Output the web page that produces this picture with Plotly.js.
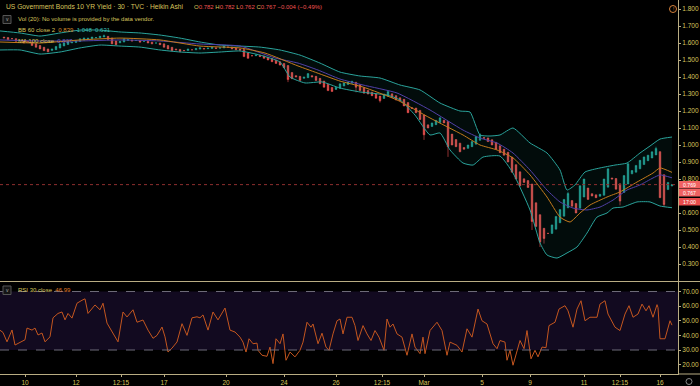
<!DOCTYPE html>
<html><head><meta charset="utf-8">
<script src="https://cdn.plot.ly/plotly-3.0.1.min.js"></script>
<style>html,body{margin:0;padding:0;background:#000;}#chart{width:700px;height:386px;}</style>
</head><body><div id="chart"></div>
<script>
// ---- Heikin Ashi closes (30-min bars), one per time slot ----
const closes = [
1.630,1.620,1.625,1.610,1.615,1.600,1.605,1.585,1.575,1.565,
1.555,1.548,1.565,1.580,1.595,1.600,1.610,1.605,1.615,1.625,
1.630,1.628,1.635,1.632,1.640,1.643,1.620,1.595,1.590,1.610,
1.625,1.620,1.612,1.615,1.605,1.610,1.600,1.595,1.600,1.590,
1.575,1.565,1.555,1.560,1.550,1.555,1.565,1.560,1.568,1.572,
1.565,1.570,1.575,1.568,1.572,1.582,1.575,1.565,1.560,1.558,
1.520,1.510,1.525,1.530,1.520,1.510,1.500,1.490,1.480,1.470,
1.455,1.385,1.390,1.400,1.380,1.400,1.420,1.400,1.380,1.360,
1.340,1.320,1.315,1.340,1.360,1.365,1.370,1.375,1.340,1.320,
1.305,1.300,1.290,1.275,1.260,1.300,1.315,1.280,1.265,1.260,
1.230,1.190,1.215,1.190,1.150,1.060,1.100,1.130,1.145,1.160,
1.130,0.990,1.000,0.990,0.960,0.975,1.000,1.020,1.050,1.060,
1.040,1.020,1.000,0.975,0.955,0.940,0.900,0.840,0.800,0.760,
0.780,0.750,0.550,0.520,0.430,0.450,0.480,0.530,0.580,0.620,
0.680,0.715,0.640,0.600,0.760,0.800,0.680,0.700,0.690,0.710,
0.800,0.860,0.800,0.740,0.670,0.820,0.890,0.850,0.880,0.910,
0.930,0.940,0.960,0.980,0.690,0.650,0.780,0.767];
const firstOpen = 1.635;
// notable wicks
const lowWickT = [288, 356, 380, 424, 448, 532, 540, 544, 620, 664];
const lowWickV = [1.37, 1.31, 1.25, 1.03, 0.93, 0.50, 0.40, 0.42, 0.645, 0.635];
const highWickT = [104, 476, 480, 568, 656];
const highWickV = [1.65, 1.055, 1.07, 0.725, 0.99];

// ---- Bollinger Bands (60, 2) and MA 100 ----
const upperT = [0,20,40,60,80,100,120,140,160,180,200,220,240,260,280,300,320,340,360,380,400,420,440,460,470,480,490,500,513,530,547,560,567,575,585,600,615,627,640,650,660,672];
const upperV = [1.671,1.659,1.641,1.659,1.676,1.676,1.665,1.659,1.647,1.629,1.606,1.588,1.582,1.576,1.559,1.529,1.482,1.429,1.406,1.394,1.353,1.324,1.247,1.200,1.194,1.059,1.053,1.059,1.100,1.012,0.953,0.853,0.735,0.765,0.841,0.865,0.882,0.894,0.953,0.994,1.035,1.047];
const lowerT = [0,20,40,60,80,100,120,140,160,180,200,220,240,260,280,290,305,322,340,360,387,400,415,430,440,450,463,473,483,500,513,530,540,547,557,567,577,587,597,607,613,623,637,650,660,672];
const lowerV = [1.559,1.559,1.535,1.547,1.571,1.588,1.582,1.576,1.559,1.547,1.541,1.547,1.553,1.529,1.488,1.400,1.365,1.371,1.335,1.312,1.294,1.265,1.176,1.059,1.071,0.971,0.894,0.882,0.929,0.935,0.835,0.618,0.424,0.353,0.335,0.365,0.400,0.482,0.576,0.600,0.629,0.635,0.665,0.665,0.641,0.631];
const basisT = [0,40,80,120,160,200,240,265,298,320,340,363,397,430,463,480,497,513,530,547,560,570,580,590,607,620,637,653,660,672];
const basisV = [1.606,1.600,1.618,1.629,1.618,1.582,1.571,1.541,1.465,1.418,1.376,1.341,1.265,1.159,1.059,1.000,0.971,0.924,0.824,0.694,0.576,0.547,0.600,0.647,0.694,0.724,0.782,0.835,0.865,0.839];
const maT = [0,40,80,120,160,200,240,275,298,318,340,363,397,430,463,480,497,513,530,547,560,573,587,600,613,627,640,653,660,672];
const maV = [1.618,1.612,1.612,1.618,1.612,1.594,1.582,1.512,1.482,1.441,1.388,1.353,1.306,1.206,1.088,1.041,1.012,0.953,0.853,0.735,0.665,0.629,0.618,0.635,0.676,0.735,0.765,0.806,0.824,0.807];

// ---- RSI 30 ----
const rsiT = [0,3,7,12,15,20,25,27,32,35,38,42,45,50,53,58,62,65,68,72,77,82,85,88,95,100,103,107,113,118,123,127,133,137,143,148,153,157,162,165,168,172,177,182,187,192,197,200,203,208,213,218,225,230,235,
240,243,246,249,253,257,258,262,267,270,273,276,280,283,286,290,295,300,303,307,311,313,318,322,326,329,333,337,340,343,347,352,355,358,363,367,371,375,379,384,387,390,393,397,402,407,412,415,420,423,425,430,437,442,447,450,457,462,467,472,478,482,487,493,497,500,505,507,510,513,517,520,524,527,531,535,538,542,546,549,555,559,565,568,573,577,581,585,590,597,600,605,608,615,620,625,629,633,638,642,646,649,653,657,658,660,665,670,672];
const rsiV = [43.5,42,35.6,43.7,33.4,35.5,37,45,43.6,45,40.3,41.6,35.6,39,52,55,56,50.6,55,51.8,62,64,65,55,60.8,57.5,62,48.4,41.6,35.6,56,52.6,57.5,49,50.5,43.6,38,40,45.7,39,28.6,31.3,35.5,48,40,52,52.7,52,54,43.6,56,50.6,58.7,43.6,42.3,
38.8,35.4,28.6,37.7,34.3,34.7,29.8,26.4,25.7,32,20.7,37.7,34.3,41,23,28.6,25.3,29.8,35.4,49,45.6,47.8,34.3,41.5,32,29.8,41,50,51.2,41,52.4,52.4,46.7,36.5,46.7,41,36.5,43.3,38.8,29.8,51.2,45.6,47.8,41,38.8,26.4,41,32,27.5,38.8,27.5,43.3,49,43.3,26.4,35.4,33.2,28.6,44.5,38.8,58,50,47.8,34.3,30.9,36.5,35.4,23,29.8,19.6,29.8,36.5,30.9,43.3,24,29.8,25.3,32,31.6,46.7,49,58,60.3,56.8,45.6,58,63.7,50,52.4,52.4,61.4,63.7,54.6,45.6,43.3,54.6,60.3,52.4,54.6,61.4,56.8,60.3,52.4,61,59,37.7,37.7,50,46.99];

// ---- axis ticks (0.700 is hidden behind the price labels in the reference) ----
const xTickVals = [25,76,121,164,226,284,336,382,424,482,530,584,620,660];
const xTickText = ['10','12','12:15','17','20','24','26','12:15','Mar','5','9','11','12:15','16'];
const priceTicks = [0.3,0.4,0.5,0.6,0.8,0.9,1.0,1.1,1.2,1.3,1.4,1.5,1.6,1.7,1.8];
const rsiTicks = [20,30,40,50,60,70];
const lastPrice = 0.767;

// build OHLC table (Heikin Ashi opens)
const candleT = closes.map((_, i) => 4 * (i + 1));
const opens = [];
closes.forEach((c, i) => { opens.push(i === 0 ? firstOpen : (opens[i-1] + closes[i-1]) / 2); });
const highs = closes.map((c, i) => Math.max(c, opens[i]));
const lows = closes.map((c, i) => Math.min(c, opens[i]));
lowWickT.forEach((t, k) => { const i = candleT.indexOf(t); if (i >= 0) lows[i] = Math.min(lows[i], lowWickV[k]); });
highWickT.forEach((t, k) => { const i = candleT.indexOf(t); if (i >= 0) highs[i] = Math.max(highs[i], highWickV[k]); });

const UP = '#26a69a', DN = '#ef5350';
const TXT = '#d8c45c', AX = '#b9ad83';
const FONT = 'Liberation Sans, Arial, sans-serif';

const traces = [
  {type:'candlestick', x:candleT, open:opens, high:highs, low:lows, close:closes, xaxis:'x', yaxis:'y',
   increasing:{line:{color:UP, width:0.6}, fillcolor:UP}, decreasing:{line:{color:DN, width:0.6}, fillcolor:DN},
   whiskerwidth:0, hoverinfo:'skip'},
  {type:'scatter', mode:'lines', x:lowerT, y:lowerV, xaxis:'x', yaxis:'y', line:{color:'#2aa39b', width:1, shape:'spline', smoothing:0.5}},
  {type:'scatter', mode:'lines', x:upperT, y:upperV, xaxis:'x', yaxis:'y', fill:'tonexty', fillcolor:'rgba(30,150,140,0.08)', line:{color:'#2aa39b', width:1, shape:'spline', smoothing:0.5}},
  {type:'scatter', mode:'lines', x:maT, y:maV, xaxis:'x', yaxis:'y', line:{color:'#5240a8', width:1, shape:'spline', smoothing:0.5}},
  {type:'scatter', mode:'lines', x:basisT, y:basisV, xaxis:'x', yaxis:'y', line:{color:'#c47a1c', width:1, shape:'spline', smoothing:0.5}},
  {type:'scatter', mode:'lines', x:rsiT, y:rsiV, xaxis:'x', yaxis:'y2', line:{color:'#c4561f', width:1}}
];

const py = p => (374 - p) / 374;   // pixel row -> paper y
const px = p => p / 678;           // pixel column -> paper x

const shapes = [
  {type:'rect', xref:'paper', yref:'y2', x0:0, x1:1, y0:30, y1:70, fillcolor:'#120a20', line:{width:0}, layer:'below'},
  {type:'line', xref:'paper', yref:'y2', x0:0, x1:1, y0:70, y1:70, line:{color:'#6d6a78', width:1, dash:'dash'}},
  {type:'line', xref:'paper', yref:'y2', x0:0, x1:1, y0:30, y1:30, line:{color:'#6d6a78', width:1, dash:'dash'}},
  {type:'line', xref:'paper', yref:'y', x0:0, x1:1, y0:lastPrice, y1:lastPrice, line:{color:'#8e2f2f', width:1, dash:'dot'}},
  {type:'line', xref:'paper', yref:'paper', x0:0, x1:px(700), y0:py(281.5), y1:py(281.5), line:{color:AX, width:1}},
  {type:'line', xref:'paper', yref:'paper', x0:1, x1:px(700), y0:0, y1:0, line:{color:AX, width:1}},
  {type:'rect', xref:'paper', yref:'paper', x0:px(679), x1:px(700), y0:py(188.5), y1:py(181), fillcolor:'#f06262', line:{width:0}},
  {type:'rect', xref:'paper', yref:'paper', x0:px(679), x1:px(700), y0:py(196.5), y1:py(189), fillcolor:'#f06262', line:{width:0}},
  {type:'rect', xref:'paper', yref:'paper', x0:px(679), x1:px(700), y0:py(205.5), y1:py(198), fillcolor:'#e84c4c', line:{width:0}},
  {type:'rect', xref:'paper', yref:'paper', x0:px(3), x1:px(11), y0:py(23.5), y1:py(15.5), fillcolor:'#151515', line:{color:'#555', width:1}},
  {type:'rect', xref:'paper', yref:'paper', x0:px(3), x1:px(11), y0:py(294.5), y1:py(286), fillcolor:'#151515', line:{color:'#555', width:1}},
  {type:'circle', xref:'paper', yref:'paper', x0:px(669.5), x1:px(676.5), y0:py(12.5), y1:py(5.5), line:{color:'#d5813a', width:1}},
  {type:'circle', xref:'paper', yref:'paper', x0:px(686), x1:px(692), y0:py(384.5), y1:py(378.5), line:{color:'#888', width:1}}
];

const sp = (c, t) => '<span style="color:' + c + '">' + t + '</span>';
const ann = (x, y, text, size, extra) => Object.assign({xref:'paper', yref:'paper', x:x, y:y, text:text, showarrow:false,
  xanchor:'left', yanchor:'middle', font:{family:FONT, size:size, color:TXT}}, extra || {});
const lbl = (y, t) => ann(px(689.5), py(y), t, 5.2, {xanchor:'center', borderpad:0, font:{family:FONT, size:5.2, color:'#fff'}});
const annotations = [
  ann(px(4), py(7), 'US Government Bonds 10 YR Yield · 30 · TVC · Heikin Ashi', 6.7),
  ann(px(192), py(7), 'O' + sp(DN,'0.782') + ' H' + sp(DN,'0.782') + ' L' + sp(DN,'0.762') + ' C' + sp(DN,'0.767') + ' ' + sp(DN,'−0.004 (−0.49%)'), 6),
  ann(px(16), py(19.5), 'Vol (20): No volume is provided by the data vendor.', 6),
  ann(px(16), py(30.5), 'BB 60 close 2  ' + sp('#d98c2b','0.839') + '  ' + sp('#3dbdb0','1.048') + '  ' + sp('#3dbdb0','0.631'), 6),
  ann(px(16), py(41), 'MA 100 close  ' + sp('#6a58c8','0.807'), 6),
  ann(px(16), py(290), 'RSI 30 close  ' + sp('#e07b2a','46.99'), 6),
  ann(px(7), py(19.5), 'v', 5, {xanchor:'center', font:{family:FONT, size:5, color:'#aaa'}}),
  ann(px(7), py(290), 'v', 5, {xanchor:'center', font:{family:FONT, size:5, color:'#aaa'}}),
  lbl(184.7, '0.769'),
  lbl(192.7, '0.767'),
  lbl(201.7, '17:00'),
  ann(px(673), py(9), '!', 5, {xanchor:'center', font:{family:FONT, size:5, color:'#d5813a'}})
];

const layout = {
  width:700, height:386,
  margin:{l:0, r:22, t:0, b:12},
  paper_bgcolor:'#000', plot_bgcolor:'#000',
  showlegend:false, hovermode:false, boxgap:0.45,
  xaxis:{domain:[0,1], anchor:'y2', range:[0,678], tickvals:xTickVals, ticktext:xTickText,
         showgrid:false, zeroline:false, showline:true, linecolor:AX, linewidth:1,
         ticks:'outside', ticklen:2, tickcolor:AX, tickfont:{family:FONT, size:6.5, color:TXT},
         rangeslider:{visible:false}, fixedrange:true},
  yaxis:{domain:[py(281), 1], anchor:'x', side:'right', range:[0.2, 1.853],
         tickvals:priceTicks, ticktext:priceTicks.map(v => v.toFixed(3)),
         showgrid:false, zeroline:false, showline:true, linecolor:AX, linewidth:1,
         ticks:'outside', ticklen:2, tickcolor:AX, tickfont:{family:FONT, size:6.5, color:TXT}},
  yaxis2:{domain:[0, py(282)], anchor:'x', side:'right', range:[13.6, 76.5],
         tickvals:rsiTicks, ticktext:rsiTicks.map(v => v.toFixed(2)),
         showgrid:false, zeroline:false, showline:true, linecolor:AX, linewidth:1,
         ticks:'outside', ticklen:2, tickcolor:AX, tickfont:{family:FONT, size:6.5, color:TXT}},
  shapes:shapes, annotations:annotations
};

Plotly.newPlot('chart', traces, layout, {staticPlot:true, displayModeBar:false});
</script>
</body></html>
